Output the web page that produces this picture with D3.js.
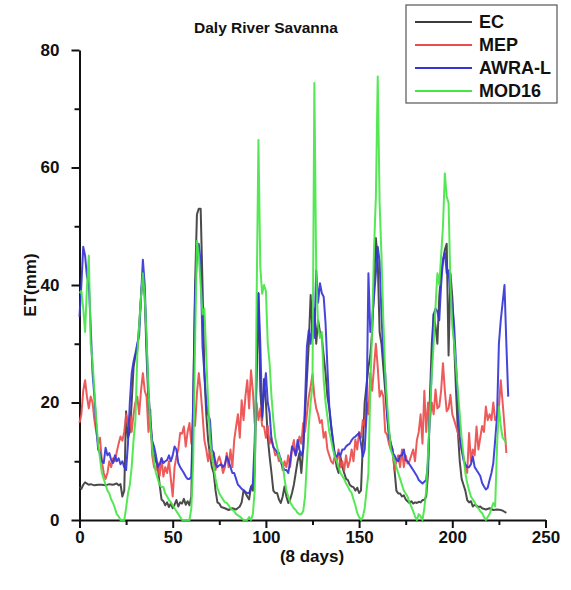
<!DOCTYPE html>
<html>
<head>
<meta charset="utf-8">
<script src="https://cdn.jsdelivr.net/npm/d3@7"></script>
<style>
  body { margin: 0; background: #fff; }
  svg text { font-family: "Liberation Sans", Arial, sans-serif; font-weight: bold; }
</style>
</head>
<body>
<div id="chart"></div>
<script>
// Data: [period index (8 days), ET (mm)]
const EC = [[0,5.6],[1,5.3],[2,6],[3,6.4],[4,6.2],[5,6],[6,6.1],[8,5.9],[10,6],[12,6],[14,5.9],[16,6.1],[18,6],[20,6.2],[21,5.9],[22,6.1],[23,4],[24,5],[25,18.5],[26,14],[27,15],[28,20],[29,26],[30,28],[31,29],[32,33],[33,38],[34,42],[35,38],[36,28],[37,20],[38,16],[39,13],[40,11],[41,10],[42,9],[43,6],[44,3.5],[45,3.2],[46,2.5],[47,3],[48,2.2],[49,2.8],[50,2],[51,2.6],[52,3.4],[53,2.3],[54,3],[55,2.8],[56,3.6],[57,2.6],[58,3.2],[59,2.5],[60,4],[61,20],[62,40],[63,52],[64,53],[65,53],[66,40],[67,25],[68,18],[69,13.6],[70,11],[71,9],[72,8],[73,5],[74,3],[75,2.8],[76,2.2],[78,2],[80,1.7],[82,2],[84,1.8],[86,2.3],[87,3],[88,5],[89,4.6],[90,4],[91,3.5],[92,5.7],[93,5],[94,8],[95,25],[96,38.6],[97,22],[98,17],[99,24],[100,20],[101,14],[102,10.8],[103,8],[104,5],[105,4.6],[106,4.6],[107,3.5],[108,2.9],[109,4],[110,5.7],[111,4],[112,2.9],[113,3.5],[114,4.6],[115,6],[116,8],[117,10],[118,11.4],[119,8],[120,12],[121,18],[122,24],[123,30],[124,38.3],[125,32],[126,36],[127,30],[128,34],[129,32],[130,31],[131,28],[132,25],[133,21],[134,19],[135,16],[136,13.6],[137,11],[138,9],[139,8],[140,10.8],[141,9],[142,8],[143,7],[144,6.8],[145,6],[146,5.7],[147,5.6],[148,5],[149,5.5],[150,4.6],[151,5],[152,12.8],[153,20],[154,23],[155,26],[156,28],[157,32],[158,40],[159,48],[160,44],[161,32],[162,30],[163,26],[164,22],[165,18],[166,15],[167,13],[168,12],[169,8.5],[170,5],[171,4.5],[172,4.5],[173,4],[174,4.2],[175,3.5],[176,3.2],[177,2.9],[178,3.2],[179,2.8],[180,3],[181,2.9],[182,3.1],[183,3],[184,3.4],[185,3.4],[186,4],[187,8],[188,21],[189,30],[190,35],[191,33],[192,30],[193,38],[194,42],[195,44],[196,46],[197,47],[198,28],[199,42],[200,38],[201,30],[202,22],[203,15],[204,10],[205,7],[206,6],[207,5],[208,3.4],[209,3],[210,3.2],[211,2.3],[212,2.6],[213,2.4],[214,2.2],[215,2.3],[216,2],[218,1.8],[220,2],[222,1.7],[224,1.8],[226,1.7],[227,1.6],[228,1.4],[229,1.2]];

const MEP = [[0,16.5],[1,18],[2,22],[3,23.8],[4,21],[5,19],[6,21],[7,20],[8,17],[9,15],[10,13],[11,14],[12,10],[13,8],[14,7],[15,8],[16,10],[17,9],[18,10.5],[19,10],[20,11.6],[21,13],[22,14.2],[23,13.5],[24,15],[25,18],[26,16],[27,17.7],[28,15],[29,18],[30,20],[31,21],[32,18],[33,22],[34,25],[35,22],[36,21],[37,15],[38,18.8],[39,11],[40,9],[41,8.5],[42,9.7],[43,7.5],[44,10.5],[45,7.4],[46,9],[47,8],[48,10],[49,7],[50,4],[51,9],[52,10.8],[53,12],[54,14.8],[55,14.7],[56,15.9],[57,12.5],[58,15],[59,16.5],[60,13],[61,17],[62,16],[63,21.5],[64,25],[65,22],[66,18],[67,13.6],[68,12],[69,10],[70,12],[71,10],[72,11.4],[73,8.5],[74,10],[75,10.8],[76,9.7],[77,8],[78,9],[79,11.4],[80,9],[81,12],[82,9],[83,13.6],[84,15.9],[85,18],[86,14],[87,20.4],[88,17],[89,21],[90,23.8],[91,19],[92,25.5],[93,22],[94,16.5],[95,20],[96,17],[97,19],[98,16],[99,15.9],[100,14],[101,16],[102,13],[103,14],[104,12.5],[105,11],[106,11.4],[107,10],[108,10.5],[109,8.5],[110,10],[111,9],[112,11],[113,9],[114,12],[115,13.6],[116,11],[117,12],[118,14.2],[119,13],[120,16.5],[121,15],[122,18],[123,21],[124,22.7],[125,24.8],[126,21],[127,19],[128,18],[129,16.5],[130,17],[131,14],[132,15],[133,12],[134,11],[135,10],[136,9.6],[137,11],[138,10],[139,12],[140,9],[141,10],[142,8.5],[143,11],[144,9],[145,10],[146,12],[147,10],[148,13.7],[149,12],[150,15],[151,14],[152,17],[153,16],[154,20],[155,18],[156,25],[157,22],[158,26],[159,30],[160,26],[161,21],[162,22],[163,21],[164,15],[165,14.5],[166,13],[167,12],[168,12],[169,8.5],[170,10],[171,11],[172,9],[173,12],[174,9],[175,11],[176,9.6],[177,10],[178,11],[179,12],[180,10],[181,13.6],[182,15],[183,18],[184,13],[185,22],[186,15],[187,20],[188,17],[189,20],[190,18],[191,22.2],[192,19],[193,19.3],[194,22],[195,26.7],[196,22],[197,18.5],[198,19],[199,21.3],[200,18],[201,17],[202,15.9],[203,14.8],[204,13.6],[205,12],[206,10.8],[207,9],[208,8],[209,14.8],[210,10],[211,12],[212,11],[213,15.9],[214,12],[215,14],[216,16],[217,15],[218,19.3],[219,17],[220,18],[221,17],[222,20],[223,17],[224,17.7],[225,19],[226,23.8],[227,20],[228,16],[229,11.4]];

const AWRA_L = [[0,34.6],[1,40],[2,46.5],[3,45],[4,41.4],[5,40.3],[6,33],[7,25],[8,21],[9,16],[10,12],[11,11.4],[12,10],[13,9.7],[14,12.3],[15,11],[16,11.4],[17,10.2],[18,9.7],[19,11],[20,10],[21,10.5],[22,9.5],[23,10],[24,9],[25,8.5],[26,13],[27,20],[28,25],[29,27],[30,28.4],[31,30],[32,31.3],[33,38],[34,44.3],[35,40],[36,30],[37,22],[38,17],[39,13.5],[40,12.5],[41,11],[42,9],[43,9.5],[44,10.5],[45,9.7],[46,10],[47,10.2],[48,11],[49,10],[50,11],[51,12.5],[52,12],[53,9.7],[54,9],[55,8.5],[56,8],[57,7.4],[58,7],[59,7],[60,7.4],[61,20],[62,38],[63,45],[64,47],[65,44],[66,29.5],[67,25],[68,20],[69,18],[70,17],[71,12],[72,11.4],[73,9.5],[74,9],[75,9.3],[76,9.5],[77,9],[78,9.5],[79,10.8],[80,10],[81,9],[82,8],[83,8],[84,7],[85,6],[86,5.7],[87,5.3],[88,5.1],[89,4.8],[90,4.6],[91,4.6],[92,5.5],[93,6.2],[94,13.6],[95,25],[96,38.6],[97,30],[98,17.6],[99,22],[100,25],[101,20],[102,18.2],[103,13.6],[104,12.4],[105,12],[106,11.5],[107,11.4],[108,10],[109,9],[110,8.5],[111,8.5],[112,8],[113,10],[114,12.5],[115,12],[116,11],[117,13.6],[118,12],[119,11],[120,12],[121,20],[122,29.5],[123,32.3],[124,30],[125,34],[126,31],[127,42.5],[128,37],[129,40.3],[130,38.6],[131,38],[132,33.5],[133,26],[134,19.3],[135,16],[136,13],[137,11],[138,10.8],[139,11.4],[140,11],[141,12],[142,12],[143,12.5],[144,12.8],[145,13],[146,13.6],[147,14],[148,14.2],[149,14.5],[150,14.8],[151,13],[152,10.8],[153,12],[154,18],[155,42],[156,32],[157,34],[158,38],[159,42],[160,46.5],[161,44],[162,35],[163,28],[164,25],[165,18],[166,14],[167,13],[168,11.4],[169,11],[170,10.2],[171,10],[172,11],[173,11],[174,12],[175,10.2],[176,10],[177,9.5],[178,9],[179,8.5],[180,8],[181,7.5],[182,6.8],[183,6.5],[184,6.2],[185,6.5],[186,6.8],[187,10],[188,18],[189,26],[190,35],[191,36],[192,35.5],[193,34],[194,40],[195,44.3],[196,45.5],[197,42],[198,42.5],[199,38],[200,37],[201,33],[202,26.6],[203,20],[204,14.2],[205,12],[206,10.2],[207,9.5],[208,9],[209,9],[210,9.5],[211,10.8],[212,9],[213,8.5],[214,8],[215,7.5],[216,6.3],[217,5.7],[218,5.2],[219,5.5],[220,6.8],[221,8],[222,9.7],[223,13.6],[224,17.6],[225,30],[226,34],[227,37],[228,40],[229,30],[230,21]];

const MOD16 = [[0,38.6],[1,39],[2,36],[3,32],[4,39.7],[5,45],[6,30],[7,27],[8,22],[9,17],[10,13],[11,10.5],[12,8],[13,7],[14,6],[15,5],[16,4.5],[17,3.5],[18,2.9],[19,2],[20,1],[21,0.6],[22,0],[23,0],[24,0],[25,2],[26,4.5],[27,6],[28,9],[29,13.6],[30,17],[31,28],[32,33],[33,38],[34,42],[35,38],[36,31],[37,22],[38,16],[39,12.5],[40,10],[41,8],[42,7],[43,6],[44,5.6],[45,5.6],[46,4.5],[47,4],[48,3.4],[49,3],[50,2.5],[51,2],[52,1.5],[53,1],[54,0.5],[55,0],[56,0],[57,0],[58,0],[59,0],[60,2],[61,10],[62,30],[63,47.5],[64,45],[65,40],[66,35],[67,36],[68,28],[69,20],[70,14],[71,11],[72,9],[73,7],[74,5.5],[75,4.5],[76,4],[77,3.5],[78,3],[79,2.9],[80,2.5],[81,2],[82,1.7],[83,1.5],[84,1],[85,0.8],[86,0.6],[87,0.3],[88,0],[89,0],[90,0],[91,0.5],[92,0],[93,1],[94,5],[95,37],[96,64.7],[97,43],[98,38.5],[99,40],[100,39],[101,30],[102,26.6],[103,21],[104,17],[105,14],[106,12.5],[107,11],[108,10],[109,9.6],[110,7],[111,5],[112,4],[113,3],[114,2.5],[115,2],[116,1.7],[117,1.2],[118,1],[119,1],[120,1.5],[121,4],[122,10],[123,16],[124,20],[125,23],[126,74.4],[127,42],[128,33],[129,31],[130,32],[131,23.8],[132,20],[133,17.6],[134,15],[135,13.6],[136,12],[137,10.8],[138,10],[139,9],[140,8],[141,7.5],[142,7],[143,6.2],[144,5.7],[145,5],[146,4.6],[147,3.5],[148,2.5],[149,1.2],[150,0.5],[151,0],[152,0.5],[153,2],[154,5],[155,8],[156,22],[157,33],[158,46],[159,55],[160,75.5],[161,54],[162,45],[163,34],[164,25],[165,20],[166,15.9],[167,12],[168,11],[169,10],[170,9],[171,8],[172,7],[173,6],[174,5],[175,4.5],[176,4],[177,3],[178,2.3],[179,1.5],[180,0.6],[181,0],[182,1],[183,0.6],[184,0],[185,2],[186,5],[187,11.4],[188,18],[189,25],[190,30],[191,36.3],[192,42],[193,40],[194,45],[195,50],[196,59],[197,55],[198,54],[199,40],[200,33],[201,30],[202,26],[203,22],[204,18],[205,14],[206,11],[207,8],[208,6.3],[209,5],[210,4],[211,3.5],[212,3],[213,2.3],[214,2],[215,1.5],[216,1.2],[217,0.5],[218,0],[219,0.5],[220,1],[221,2],[222,2.9],[223,2.3],[224,12.5],[225,19.3],[226,16],[227,14],[228,13.6],[229,13]];

const SERIES = [
    { name: "EC", values: EC, color: "#3c3c3c" },
    { name: "MEP", values: MEP, color: "#ec4c4c" },
    { name: "AWRA-L", values: AWRA_L, color: "#3535d8" },
    { name: "MOD16", values: MOD16, color: "#45e645" }
];
const X_TICKS = [0, 50, 100, 150, 200, 250];
const Y_TICKS = [0, 20, 40, 60, 80];

const W = 571, H = 590;
const svg = d3.select("#chart").append("svg").attr("width", W).attr("height", H);

const x = d3.scaleLinear().domain([0, 250]).range([79.5, 545.5]);
const y = d3.scaleLinear().domain([0, 80]).range([520, 50]);

// Axes (minor ticks first, then major ticks with labels)
svg.append("g").attr("transform", `translate(0,${y(0)})`)
    .call(d3.axisBottom(x).tickValues(d3.range(25, 250, 50)).tickSize(5).tickFormat(""))
    .call(g => g.select(".domain").remove());
svg.append("g").attr("transform", `translate(0,${y(0)})`)
    .call(d3.axisBottom(x).tickValues(X_TICKS).tickSize(8).tickSizeOuter(0).tickPadding(3));

svg.append("g").attr("transform", `translate(${x(0)},0)`)
    .call(d3.axisLeft(y).tickValues(d3.range(10, 80, 20)).tickSize(5).tickFormat(""))
    .call(g => g.select(".domain").remove());
svg.append("g").attr("transform", `translate(${x(0)},0)`)
    .call(d3.axisLeft(y).tickValues(Y_TICKS).tickSize(8).tickSizeOuter(0).tickPadding(12));

svg.selectAll(".domain, .tick line").attr("stroke", "#111").attr("stroke-width", 2);
svg.selectAll(".tick text").attr("font-size", 17).attr("fill", "#111");

// Lines
const line = d3.line().x(d => x(d[0])).y(d => y(d[1]));
svg.append("g").selectAll("path").data(SERIES).enter().append("path")
    .attr("d", d => line(d.values))
    .attr("fill", "none")
    .attr("stroke", d => d.color)
    .attr("stroke-width", 2)
    .attr("stroke-linejoin", "round")
    .attr("stroke-opacity", 0.92);

// Titles
svg.append("text").attr("x", 266).attr("y", 33).attr("text-anchor", "middle")
    .attr("font-size", 15.5).attr("fill", "#111").text("Daly River Savanna");
svg.append("text").attr("x", 312).attr("y", 562).attr("text-anchor", "middle")
    .attr("font-size", 17).attr("fill", "#111").text("(8 days)");
svg.append("text").attr("transform", `translate(36,${y(40)}) rotate(-90)`)
    .attr("text-anchor", "middle").attr("font-size", 17).attr("fill", "#111").text("ET(mm)");

// Legend
const legend = svg.append("g").attr("transform", "translate(406,5)");
legend.append("rect").attr("width", 151).attr("height", 98)
    .attr("fill", "#fff").attr("stroke", "#555").attr("stroke-width", 1.2);
const item = legend.selectAll(".item").data(SERIES).enter().append("g")
    .attr("transform", (d, i) => `translate(0,${17 + i * 23})`);
item.append("line").attr("x1", 9).attr("x2", 66).attr("stroke", d => d.color).attr("stroke-width", 2);
item.append("text").attr("x", 73).attr("dy", "0.36em").attr("font-size", 18)
    .attr("fill", "#111").text(d => d.name);
</script>
</body>
</html>
